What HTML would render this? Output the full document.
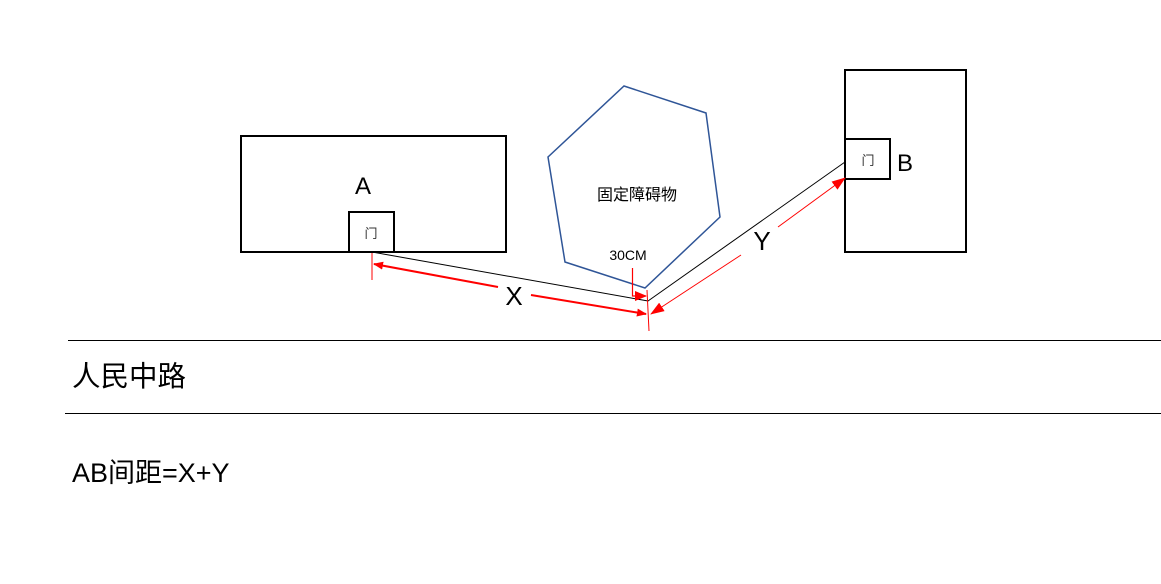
<!DOCTYPE html>
<html><head><meta charset="utf-8"><style>
html,body{margin:0;padding:0;background:#fff;}
svg{display:block;}
text{font-family:"Liberation Sans","Noto Sans CJK SC",sans-serif;}
</style></head><body>
<svg width="1161" height="584" viewBox="0 0 1161 584" xmlns="http://www.w3.org/2000/svg">
<defs>
<marker id="ah" markerWidth="10" markerHeight="8" refX="9" refY="4" orient="auto" markerUnits="userSpaceOnUse">
<path d="M0,0 L10,4 L0,8 z" fill="#f00"/></marker>
<marker id="ah3" markerWidth="12" markerHeight="10" refX="11" refY="5" orient="auto" markerUnits="userSpaceOnUse">
<path d="M0,0 L12,5 L0,10 z" fill="#f00"/></marker>
<marker id="ah2" markerWidth="14" markerHeight="10" refX="13" refY="5" orient="auto" markerUnits="userSpaceOnUse">
<path d="M0,0 L14,5 L0,10 z" fill="#f00"/></marker>
</defs>
<rect width="1161" height="584" fill="#fff"/>
<rect x="241" y="136" width="265" height="116" fill="none" stroke="#000" stroke-width="2"/>
<rect x="349" y="212" width="45" height="40" fill="#fff" stroke="#000" stroke-width="2"/>
<text x="363" y="194" font-size="24" text-anchor="middle" fill="#000">A</text>
<text x="371" y="238" font-size="13" text-anchor="middle" fill="#333">门</text>
<rect x="845" y="70" width="121" height="182" fill="none" stroke="#000" stroke-width="2"/>
<rect x="845" y="139" width="45" height="40" fill="#fff" stroke="#000" stroke-width="2"/>
<text x="897" y="171" font-size="24" fill="#000">B</text>
<text x="868" y="165" font-size="13" text-anchor="middle" fill="#333">门</text>
<polygon points="624,86 706,113 720,217 645,288 565,262 548,157" fill="none" stroke="#2f5597" stroke-width="1.5"/>
<text x="637" y="200" font-size="16" text-anchor="middle" fill="#000">固定障碍物</text>
<polyline points="372,252 648,301 845,162" fill="none" stroke="#000" stroke-width="1"/>
<line x1="372" y1="253" x2="372" y2="280" stroke="#f00" stroke-width="1"/>
<line x1="647" y1="290" x2="649" y2="331" stroke="#f00" stroke-width="1"/>
<line x1="498" y1="287" x2="374" y2="264" stroke="#f00" stroke-width="2" marker-end="url(#ah)"/>
<line x1="531" y1="295" x2="646" y2="314" stroke="#f00" stroke-width="2" marker-end="url(#ah)"/>
<text x="514" y="305" font-size="26" text-anchor="middle" fill="#000">X</text>
<line x1="741" y1="255" x2="651" y2="314" stroke="#f00" stroke-width="1" marker-end="url(#ah2)"/>
<line x1="778" y1="227" x2="845" y2="178" stroke="#f00" stroke-width="1" marker-end="url(#ah2)"/>
<text x="762" y="250" font-size="26" text-anchor="middle" fill="#000">Y</text>
<text x="628" y="260" font-size="14" text-anchor="middle" fill="#000">30CM</text>
<polyline points="632.5,268 632.5,296 646,296" fill="none" stroke="#f00" stroke-width="1.2" marker-end="url(#ah3)"/>
<line x1="68" y1="340.5" x2="1161" y2="340.5" stroke="#000" stroke-width="1"/>
<line x1="65" y1="413.5" x2="1161" y2="413.5" stroke="#000" stroke-width="1"/>
<text x="72" y="386" font-size="28.5" fill="#000">人民中路</text>
<text x="72" y="482" font-size="27" fill="#000">AB间距=X+Y</text>
</svg>
</body></html>
